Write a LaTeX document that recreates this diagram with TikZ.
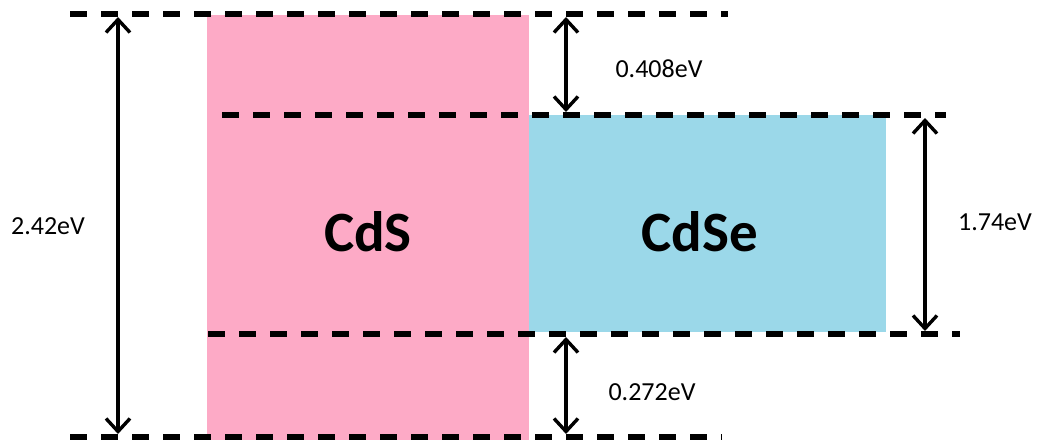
\documentclass[tikz,border=0pt]{standalone}
\usepackage{fontspec}
\setmainfont{Carlito}
\usetikzlibrary{arrows.meta}
\definecolor{cdspink}{RGB}{253,170,198}
\definecolor{cdseblue}{RGB}{155,216,233}
\tikzset{
  level/.style={line width=6pt, dash pattern=on 17pt off 14pt},
  gaparrow/.style={line width=3.4pt, {Straight Barb[length=13pt,width=24pt]}-{Straight Barb[length=13pt,width=24pt]}},
  evlabel/.style={font=\fontsize{26}{30}\selectfont, text=black},
  matlabel/.style={font=\fontsize{57}{64}\selectfont\bfseries, text=black}
}
\begin{document}
\begin{tikzpicture}[x=1pt,y=-1pt]
\useasboundingbox (0,0) rectangle (1044,442);
% bands
\fill[cdspink] (207,15) rectangle (529,440);
\fill[cdseblue] (529,115) rectangle (886,332);
\node[matlabel] (cds) at (368,232) {CdS};
\node[matlabel] (cdse) at (700,232) {CdSe};
% level lines
\coordinate (t1) at (70,14);   \coordinate (t2) at (728,14);
\coordinate (u1) at (222,115); \coordinate (u2) at (946,115);
\coordinate (l1) at (208,334); \coordinate (l2) at (960,334);
\coordinate (b1) at (70,437);  \coordinate (b2) at (722,437);
\draw[level] (t1) -- (t2);
\draw[level] (u1) -- (u2);
\draw[level] (l1) -- (l2);
\draw[level] (b1) -- (b2);
% arrows
\coordinate (a1) at (118,17);  \coordinate (a2) at (118,434);
\coordinate (c1) at (566,17);  \coordinate (c2) at (566,112);
\coordinate (d1) at (925,118); \coordinate (d2) at (925,331);
\coordinate (e1) at (566,337); \coordinate (e2) at (566,434);
\draw[gaparrow] (a1) -- (a2);
\draw[gaparrow] (c1) -- (c2);
\draw[gaparrow] (d1) -- (d2);
\draw[gaparrow] (e1) -- (e2);
% labels
\node[evlabel] (lab1) at (48,226) {2.42eV};
\node[evlabel] (lab2) at (659,69) {0.408eV};
\node[evlabel] (lab3) at (995,222) {1.74eV};
\node[evlabel] (lab4) at (652,392) {0.272eV};
\end{tikzpicture}
\end{document}
